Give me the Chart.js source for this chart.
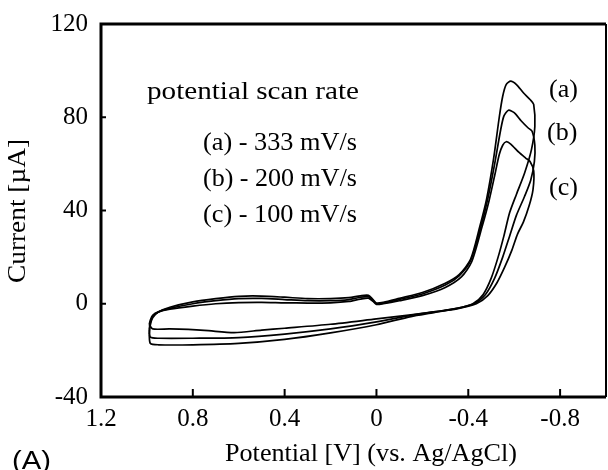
<!DOCTYPE html>
<html>
<head>
<meta charset="utf-8">
<script src="https://cdn.jsdelivr.net/npm/chart.js@4/dist/chart.umd.min.js"></script>
<style>
  html, body { margin: 0; padding: 0; background: #fff; }
  #wrap { width: 608px; height: 470px; position: relative; }
</style>
</head>
<body>
<div id="wrap"><canvas id="cv"></canvas></div>
<script>
// ===== Data (potential V, current uA) =====
const xTicks = [1.2, 0.8, 0.4, 0, -0.4, -0.8];
const yTicks = [-40, 0, 40, 80, 120];
const seriesNames = ['(a) - 333 mV/s', '(b) - 200 mV/s', '(c) - 100 mV/s'];
const curveTags = ['(a)', '(b)', '(c)'];

const loopA = [
  [0.99,-13],[0.985,-9],[0.975,-6],[0.95,-3.5],[0.9,-1.5],[0.8,0.8],[0.7,2.2],[0.6,3.2],[0.5,3.3],[0.4,2.8],
  [0.3,2.2],[0.2,2.2],[0.12,2.6],[0.07,3.4],[0.035,3.6],[0.015,1.8],[0,0.3],[-0.03,0.6],[-0.1,2.3],[-0.2,4.8],
  [-0.3,8.8],[-0.36,12.5],[-0.41,19],[-0.45,33],[-0.48,45],[-0.51,62],[-0.535,80],[-0.55,89],[-0.565,94],
  [-0.585,95.5],[-0.61,94],[-0.64,90.5],[-0.67,87.5],[-0.685,85.5],
  [-0.69,76],[-0.675,66],[-0.645,56],[-0.61,47],[-0.58,39],[-0.555,29],[-0.53,20],[-0.5,11],[-0.465,4],
  [-0.42,0],[-0.35,-2],[-0.25,-3.8],[-0.15,-5.5],[0,-9],[0.2,-12.5],[0.4,-15.3],[0.6,-17],[0.8,-17.6],
  [0.95,-17.6],[0.985,-17],[0.99,-13]
];
const loopB = [
  [0.99,-11],[0.985,-8],[0.975,-5.5],[0.95,-3.5],[0.9,-2],[0.8,0],[0.7,1.3],[0.6,2.2],[0.5,2.3],[0.4,1.8],
  [0.3,1.3],[0.2,1.3],[0.12,1.8],[0.07,2.8],[0.035,3.0],[0.015,1.4],[0,0],[-0.03,0.3],[-0.1,1.8],[-0.2,4.2],
  [-0.3,8],[-0.36,12],[-0.41,18.5],[-0.455,33],[-0.485,45],[-0.515,60],[-0.54,74],[-0.555,80.5],[-0.575,83],
  [-0.6,82],[-0.63,78.5],[-0.66,75.5],[-0.678,74],
  [-0.69,68],[-0.688,61],[-0.672,53],[-0.645,46],[-0.61,38],[-0.58,29],[-0.55,20],[-0.515,11],[-0.475,4],
  [-0.425,0],[-0.35,-2],[-0.25,-3.5],[-0.15,-5],[0,-7.8],[0.2,-10.8],[0.4,-13],[0.6,-14.5],[0.8,-14.8],
  [0.95,-14.8],[0.985,-14.3],[0.99,-11]
];
const loopC = [
  [0.99,-9],[0.985,-7],[0.975,-5],[0.95,-3.5],[0.9,-2.3],[0.8,-1],[0.7,0],[0.6,0.5],[0.5,0.6],[0.4,0.4],
  [0.3,0.3],[0.2,0.4],[0.12,1],[0.07,2],[0.035,2.4],[0.015,1],[0,-0.3],[-0.03,0],[-0.1,1.3],[-0.2,3.5],
  [-0.3,7],[-0.37,11.5],[-0.415,18],[-0.46,33],[-0.49,44],[-0.515,55],[-0.535,64],[-0.55,68],[-0.565,69.5],
  [-0.585,68.5],[-0.62,65],[-0.65,62.5],[-0.669,61],
  [-0.685,57],[-0.682,49],[-0.665,42],[-0.64,35],[-0.615,30],[-0.59,23],[-0.56,16],[-0.525,9],[-0.485,3.5],
  [-0.435,0],[-0.35,-2.2],[-0.25,-3.5],[-0.15,-4.8],[0,-6.5],[0.2,-8.8],[0.4,-10.5],[0.5,-11.3],[0.62,-12.4],
  [0.75,-11.4],[0.9,-10.8],[0.975,-10.8],[0.99,-9]
];

const SERIF = '"Liberation Serif", "DejaVu Serif", serif';
const toPts = arr => arr.map(p => ({ x: p[0], y: p[1] }));
const mkSet = (label, arr) => ({
  label, data: toPts(arr), showLine: true, borderColor: '#000', borderWidth: 1.7,
  pointRadius: 0, tension: 0.25, fill: false
});

// draw text left-aligned, stretched to a given width (the scan is wide-set)
function fitText(ctx, t, x, y, w) {
  const nat = ctx.measureText(t).width;
  ctx.save();
  ctx.translate(x, y);
  ctx.scale(w / nat, 1);
  ctx.fillText(t, 0, 0);
  ctx.restore();
}

// frame, inward ticks and all free text
const decor = {
  id: 'decor',
  afterDraw(chart) {
    const { ctx, chartArea: a, scales: { x, y } } = chart;
    ctx.save();
    ctx.strokeStyle = '#000';
    // frame
    ctx.lineWidth = 3;
    ctx.beginPath();
    ctx.moveTo(a.right, a.top); ctx.lineTo(a.left, a.top); ctx.lineTo(a.left, a.bottom); ctx.lineTo(a.right, a.bottom);
    ctx.stroke();
    ctx.lineWidth = 2;
    ctx.beginPath(); ctx.moveTo(a.right, a.top); ctx.lineTo(a.right, a.bottom); ctx.stroke();
    // inward ticks
    xTicks.forEach(v => {
      const px = x.getPixelForValue(v);
      ctx.beginPath(); ctx.moveTo(px, a.bottom); ctx.lineTo(px, a.bottom - 8); ctx.stroke();
    });
    yTicks.forEach(v => {
      const py = y.getPixelForValue(v);
      ctx.beginPath(); ctx.moveTo(a.left, py); ctx.lineTo(a.left + 5, py); ctx.stroke();
    });
    // texts
    ctx.fillStyle = '#000';
    ctx.textBaseline = 'middle';
    ctx.textAlign = 'left';
    ctx.font = '26px ' + SERIF;
    fitText(ctx, 'potential scan rate', 147, 92, 212);
    seriesNames.forEach((s, i) => fitText(ctx, s, 203, 143 + i * 36, 154));
    ctx.fillText(curveTags[0], 549, 90);
    ctx.fillText(curveTags[1], 547, 133);
    ctx.fillText(curveTags[2], 549, 188);
    fitText(ctx, 'Potential [V] (vs. Ag/AgCl)', 225, 454, 292);
    ctx.save();
    ctx.translate(18, 283); ctx.rotate(-Math.PI / 2);
    fitText(ctx, 'Current [\u00b5A]', 0, 0, 144);
    ctx.restore();
    ctx.font = '26px "Liberation Sans", Arial, sans-serif';
    fitText(ctx, '(A)', 12, 462, 39);
    ctx.restore();
  }
};

new Chart(document.getElementById('cv'), {
  type: 'scatter',
  data: { datasets: [mkSet(seriesNames[0], loopA), mkSet(seriesNames[1], loopB), mkSet(seriesNames[2], loopC)] },
  options: {
    responsive: true, maintainAspectRatio: false, animation: false,
    layout: { padding: { left: 0, top: 24, right: 2, bottom: 0 } },
    plugins: { legend: { display: false }, tooltip: { enabled: false } },
    scales: {
      x: {
        type: 'linear', reverse: true, min: -1.0, max: 1.2,
        afterBuildTicks: s => { s.ticks = xTicks.map(v => ({ value: v })); },
        afterFit: s => { s.height = 73; s.paddingLeft = 0; s.paddingRight = 0; },
        grid: { display: false, drawTicks: false }, border: { display: false },
        ticks: { color: '#000', padding: 7, font: { family: SERIF, size: 25 },
          callback: v => (v === 0 ? '0' : v.toFixed(1)) }
      },
      y: {
        type: 'linear', min: -40, max: 120,
        afterBuildTicks: s => { s.ticks = yTicks.map(v => ({ value: v })); },
        afterFit: s => { s.width = 101; s.paddingTop = 0; s.paddingBottom = 0; },
        grid: { display: false, drawTicks: false }, border: { display: false },
        ticks: { color: '#000', padding: 13, font: { family: SERIF, size: 25 } }
      }
    }
  },
  plugins: [decor]
});
</script>
</body>
</html>
